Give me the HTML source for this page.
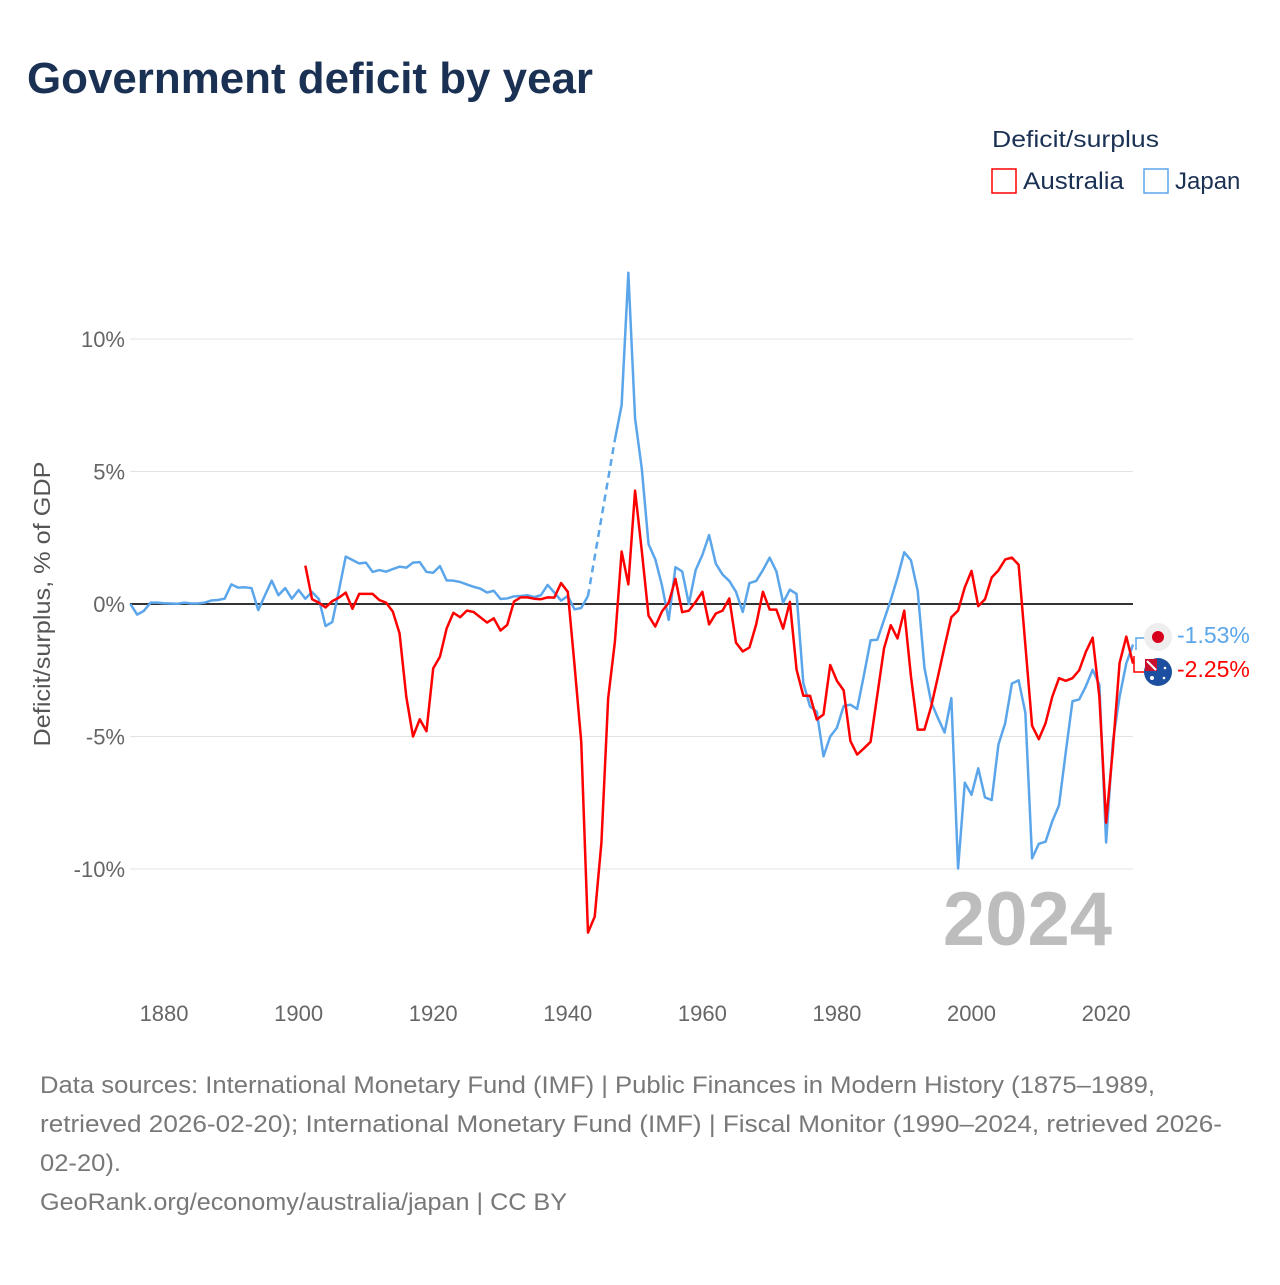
<!DOCTYPE html>
<html><head><meta charset="utf-8">
<style>
body{margin:0;background:#fff;width:1280px;height:1280px;overflow:hidden;font-family:"Liberation Sans",sans-serif;}
svg text{font-family:"Liberation Sans",sans-serif;}
</style></head>
<body>
<svg id="chart" width="1280" height="1280" viewBox="0 0 1280 1280" xmlns="http://www.w3.org/2000/svg">
<text x="27" y="93" font-size="44" font-weight="bold" fill="#1b3153" textLength="566" lengthAdjust="spacingAndGlyphs">Government deficit by year</text>
<text x="992" y="147" font-size="23" fill="#1b3153" textLength="167" lengthAdjust="spacingAndGlyphs">Deficit/surplus</text>
<g>
<rect x="992" y="169" width="24" height="24" fill="none" stroke="#ff0000" stroke-width="1.5"/>
<text x="1023" y="189" font-size="24" fill="#1b3153" textLength="101" lengthAdjust="spacingAndGlyphs">Australia</text></g>
<g>
<rect x="1144" y="169" width="24" height="24" fill="none" stroke="#5ba6eb" stroke-width="1.5"/>
<text x="1175" y="189" font-size="24" fill="#1b3153">Japan</text></g>
<text transform="translate(50,604) rotate(-90)" text-anchor="middle" font-size="23" fill="#555" textLength="285" lengthAdjust="spacingAndGlyphs">Deficit/surplus, % of GDP</text>
<g id="grid"></g><g id="series"></g>
<text x="1112" y="945" text-anchor="end" font-size="76" font-weight="bold" fill="#bdbdbd">2024</text>
<g>
<path d="M1150 638 H1136 V650" fill="none" stroke="#5ba6eb" stroke-width="1.5"/>
<circle cx="1158" cy="637" r="14" fill="#eeeeee"/><circle cx="1158" cy="637" r="6" fill="#d6001c"/></g>
<g>
<path d="M1146 672 H1134 V656" fill="none" stroke="#ff0000" stroke-width="1.5"/>
<circle cx="1158" cy="672" r="14" fill="#1d4fa0"/><rect x="1145" y="659" width="12" height="12" fill="#c8102e"/><path d="M1147 661 L1156 670" stroke="#fff" stroke-width="2"/><circle cx="1152" cy="678" r="2" fill="#fff"/><circle cx="1165" cy="668" r="1.3" fill="#fff"/><circle cx="1164" cy="678" r="1.3" fill="#fff"/></g>
<text x="1177" y="643" font-size="23" fill="#5ba6eb">-1.53%</text>
<text x="1177" y="677" font-size="23" fill="#ff0000">-2.25%</text>
<g font-size="24" fill="#787878">
<text x="40" y="1093" textLength="1115" lengthAdjust="spacingAndGlyphs">Data sources: International Monetary Fund (IMF) | Public Finances in Modern History (1875–1989,</text>
<text x="40" y="1132" textLength="1182" lengthAdjust="spacingAndGlyphs">retrieved 2026-02-20); International Monetary Fund (IMF) | Fiscal Monitor (1990–2024, retrieved 2026-</text>
<text x="40" y="1171" textLength="81" lengthAdjust="spacingAndGlyphs">02-20).</text>
<text x="40" y="1210" textLength="527" lengthAdjust="spacingAndGlyphs">GeoRank.org/economy/australia/japan | CC BY</text></g>
</svg>
<script>
const yTicks=[10,5,0,-5,-10];
const yTickLabels=["10%","5%","0%","-5%","-10%"];
const xTicks=[1880,1900,1920,1940,1960,1980,2000,2020];
const japanStart=1875;
const japanValues=[0,-0.4,-0.26,0.05,0.05,0.03,0.02,0.01,0.05,0.02,0.02,0.05,0.13,0.15,0.2,0.74,0.62,0.63,0.6,-0.23,0.33,0.88,0.33,0.6,0.2,0.53,0.2,0.45,0.19,-0.83,-0.68,0.53,1.79,1.66,1.53,1.56,1.21,1.28,1.22,1.32,1.41,1.37,1.56,1.58,1.21,1.18,1.43,0.89,0.88,0.83,0.74,0.65,0.58,0.43,0.5,0.19,0.21,0.29,0.3,0.33,0.26,0.33,0.72,0.43,0.13,0.3,-0.2,-0.15,0.3,null,null,null,6.2,7.5,12.5,7.0,5.1,2.26,1.69,0.7,-0.6,1.39,1.23,0.0,1.28,1.85,2.6,1.52,1.11,0.87,0.46,-0.3,0.79,0.87,1.28,1.75,1.23,0.05,0.54,0.38,-2.98,-3.87,-4.06,-5.75,-5.0,-4.67,-3.85,-3.8,-3.96,-2.7,-1.37,-1.35,-0.6,0.15,1.0,1.95,1.65,0.5,-2.4,-3.7,-4.3,-4.85,-3.55,-9.98,-6.74,-7.2,-6.2,-7.3,-7.4,-5.3,-4.5,-3.0,-2.88,-4.1,-9.6,-9.05,-8.97,-8.2,-7.6,-5.6,-3.67,-3.6,-3.1,-2.48,-3.05,-9.0,-5.2,-3.5,-2.24,-1.53];
const australiaStart=1901;
const australiaValues=[1.45,0.18,0.05,-0.13,0.11,0.24,0.43,-0.18,0.38,0.38,0.38,0.15,0.05,-0.29,-1.11,-3.5,-5.0,-4.35,-4.8,-2.43,-1.99,-0.92,-0.33,-0.5,-0.25,-0.3,-0.5,-0.7,-0.54,-1.0,-0.79,0.09,0.25,0.25,0.2,0.18,0.25,0.24,0.79,0.46,-2.3,-5.2,-12.4,-11.8,-9.0,-3.56,-1.43,1.98,0.74,4.28,2.0,-0.44,-0.85,-0.28,0.05,0.95,-0.31,-0.25,0.08,0.46,-0.77,-0.36,-0.25,0.21,-1.46,-1.79,-1.64,-0.77,0.46,-0.21,-0.21,-0.93,0.08,-2.48,-3.46,-3.46,-4.36,-4.17,-2.3,-2.9,-3.26,-5.17,-5.68,-5.45,-5.2,-3.43,-1.67,-0.8,-1.3,-0.25,-2.73,-4.74,-4.74,-3.87,-2.75,-1.6,-0.5,-0.25,0.63,1.25,-0.08,0.18,1.0,1.27,1.68,1.75,1.48,-1.55,-4.59,-5.1,-4.5,-3.5,-2.8,-2.9,-2.8,-2.5,-1.8,-1.27,-3.5,-8.25,-5.5,-2.23,-1.23,-2.25];

const NS="http://www.w3.org/2000/svg";
const X=yr=>130.4+(yr-1875)*6.729;
const Y=v=>604-v*26.5;
const grid=document.getElementById('grid'), ser=document.getElementById('series');
function mk(tag,attrs,parent){const e=document.createElementNS(NS,tag);for(const k in attrs)e.setAttribute(k,attrs[k]);parent.appendChild(e);return e;}
yTicks.forEach((t,i)=>{
  if(t!==0){const l=mk('line',{x1:130,x2:1133,y1:Y(t),y2:Y(t),stroke:'#e3e3e3','stroke-width':1},grid);
  
  }
  const tx=mk('text',{x:125,y:Y(t)+8,'text-anchor':'end','font-size':22,fill:'#666'},grid);
  tx.textContent=yTickLabels[i];
  
  
});
xTicks.forEach(t=>{
  const tx=mk('text',{x:X(t),y:1021,'text-anchor':'middle','font-size':22,fill:'#666'},grid);
  tx.textContent=t;
  
  
});
const z=mk('line',{x1:130,x2:1133,y1:Y(0),y2:Y(0),stroke:'#333','stroke-width':2},grid);


function draw(vals,start,color,name){
  let segs=[],cur=[],lastPt=null,gaps=[];
  vals.forEach((v,i)=>{
    if(v===null){if(cur.length){segs.push(cur);lastPt=cur[cur.length-1];cur=[];}return;}
    const p=[X(start+i),Y(v)];
    if(!cur.length&&lastPt){gaps.push([lastPt,p]);lastPt=null;}
    cur.push(p);
  });
  if(cur.length)segs.push(cur);
  segs.forEach(s=>{
    const pl=mk('polyline',{points:s.map(p=>p.join(',')).join(' '),fill:'none',stroke:color,'stroke-width':2.5,'stroke-linejoin':'round'},ser);
    
    
  });
  gaps.forEach(g=>{
    const l=mk('line',{x1:g[0][0],y1:g[0][1],x2:g[1][0],y2:g[1][1],stroke:color,'stroke-width':2.5,'stroke-dasharray':'7,5'},ser);
    
    
  });
}
draw(japanValues,japanStart,'#5ba6eb','japan');
draw(australiaValues,australiaStart,'#ff0000','australia');
</script>
</body></html>
